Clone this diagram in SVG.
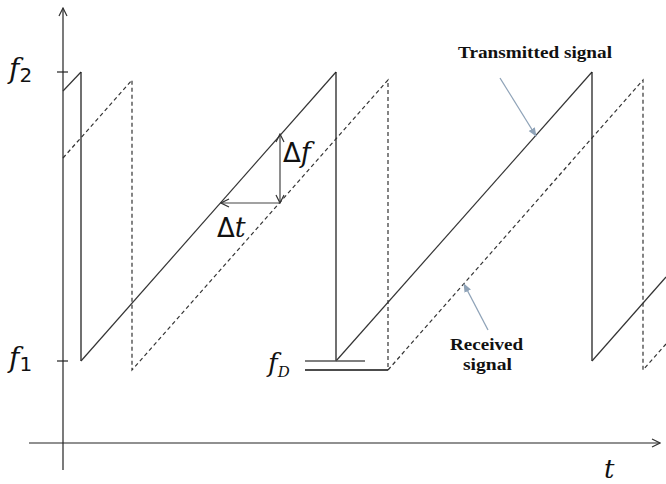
<svg xmlns="http://www.w3.org/2000/svg" width="666" height="484" viewBox="0 0 666 484">
<defs>
<style>
.ax{stroke:#222;stroke-width:1.2;fill:none}
.tx{stroke:#333;stroke-width:1.2;fill:none}
.vx{stroke:#111;stroke-width:1.2;fill:none}
.rx{stroke:#333;stroke-width:1.2;fill:none;stroke-dasharray:4 3}
.dm{stroke:#444;stroke-width:1.2;fill:none}
.co{stroke:#8fa3b8;stroke-width:1.3;fill:none}
.m{font-family:"DejaVu Serif","Liberation Serif",serif;fill:#111}
.lb{font-family:"Liberation Serif","DejaVu Serif",serif;font-weight:bold;fill:#111;font-size:17px}
</style>
<marker id="open" viewBox="0 0 10 10" refX="9" refY="5" markerWidth="10" markerHeight="10" markerUnits="userSpaceOnUse" orient="auto-start-reverse">
<path d="M1,1 L9,5 L1,9" fill="none" stroke="#333" stroke-width="1.2"/>
</marker>
<marker id="co" viewBox="0 0 10 10" refX="9" refY="5" markerWidth="9" markerHeight="9" markerUnits="userSpaceOnUse" orient="auto">
<path d="M0,1 L10,5 L0,9 Z" fill="#8fa3b8"/>
</marker>
</defs>
<g id="axes">
<line class="ax" x1="63" y1="470" x2="63" y2="8" marker-end="url(#open)"/>
<line class="ax" x1="29" y1="443" x2="660" y2="443" marker-end="url(#open)"/>
<line class="ax" x1="57" y1="72" x2="68" y2="72"/>
<line class="ax" x1="57" y1="361" x2="68" y2="361"/>
</g>
<g id="transmitted">
<path class="tx" d="M63,91 L81,72"/>
<path class="vx" d="M81,72 L81,361"/>
<path class="tx" d="M81,361 L336,72"/>
<path class="vx" d="M336,72 L336,361"/>
<path class="tx" d="M336,361 L592,72"/>
<path class="vx" d="M592,72 L592,361"/>
<path class="tx" d="M592,361 L666,277"/>
</g>
<g id="received">
<path class="rx" d="M63,158 L132,80 L132,370 L388,80 L388,370"/>
<path class="rx" d="M388,370 L643,80 L643,370 L666,344"/>
</g>
<g id="doppler">
<line x1="305" y1="361" x2="365" y2="361" stroke="#555" stroke-width="1.3"/>
<line x1="305" y1="370" x2="388" y2="370" stroke="#111" stroke-width="1.3"/>
</g>
<g id="delta">
<line class="dm" x1="280" y1="134" x2="280" y2="203" marker-start="url(#open)" marker-end="url(#open)"/>
<line class="dm" x1="221" y1="203" x2="280" y2="203" marker-start="url(#open)"/>
</g>
<g id="callouts">
<line class="co" x1="500" y1="78" x2="536" y2="136" marker-end="url(#co)"/>
<line class="co" x1="488" y1="330" x2="464" y2="284" marker-end="url(#co)"/>
</g>
<g id="labels">
<text class="m" x="9" y="78" font-size="28"><tspan font-style="italic">f</tspan><tspan font-family="DejaVu Sans, sans-serif" font-size="20" dy="4">2</tspan></text>
<text class="m" x="9" y="367" font-size="28"><tspan font-style="italic">f</tspan><tspan font-family="DejaVu Sans, sans-serif" font-size="20" dy="4">1</tspan></text>
<text class="m" x="268" y="372" font-size="26"><tspan font-style="italic">f</tspan><tspan font-size="15" font-style="italic" dy="5">D</tspan></text>
<text class="m" x="283" y="162" font-size="27"><tspan font-family="DejaVu Sans, sans-serif" font-size="26">Δ</tspan><tspan font-style="italic">f</tspan></text>
<text class="m" x="217" y="237" font-size="27"><tspan font-family="DejaVu Sans, sans-serif" font-size="26">Δ</tspan><tspan font-style="italic">t</tspan></text>
<text class="m" x="604" y="478" font-size="26" font-style="italic">t</text>
<text class="lb" x="458" y="58" textLength="154" lengthAdjust="spacingAndGlyphs">Transmitted signal</text>
<text class="lb" x="450" y="350" textLength="73" lengthAdjust="spacingAndGlyphs">Received</text>
<text class="lb" x="463" y="370" textLength="49" lengthAdjust="spacingAndGlyphs">signal</text>
</g>
</svg>
